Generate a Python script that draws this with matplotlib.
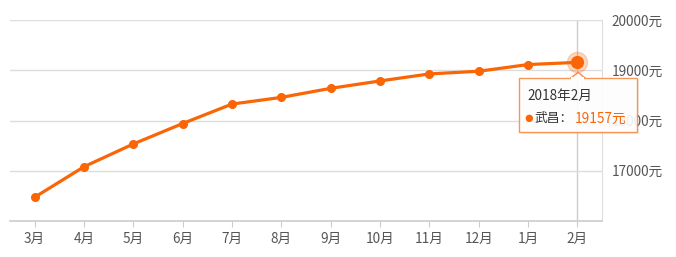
import matplotlib
matplotlib.use('Agg')
import matplotlib.pyplot as plt
from matplotlib.patches import Rectangle, Polygon, Circle
from matplotlib.transforms import IdentityTransform

plt.rcParams['font.family'] = ['Noto Sans CJK SC', 'DejaVu Sans']

months = ['3月', '4月', '5月', '6月', '7月', '8月', '9月', '10月', '11月', '12月', '1月', '2月']
prices = [16473, 17080, 17533, 17940, 18327, 18460, 18640, 18787, 18927, 18980, 19113, 19157]
y_ticks = [17000, 18000, 19000, 20000]
y_labels = ['17000元', '18000元', '19000元', '20000元']
tip_title = '2018年2月'
tip_series = '武昌：'
tip_value = '19157元'

orange = '#fa6505'
grid_c = '#dddddd'
text_c = '#555555'

fig = plt.figure(figsize=(6.76, 2.57), dpi=100)
W, H = 676, 257
ax = fig.add_axes([10 / W, 36 / H, 592 / W, 201 / H])

x = list(range(len(months)))
ax.plot(x, prices, color=orange, lw=2.3, marker='o', ms=5.5, zorder=3, clip_on=False)

ax.set_xlim(-0.5, len(months) - 0.5)
ax.set_ylim(16000, 20000)
ax.set_xticks(x)
ax.set_xticklabels(months)
ax.set_yticks(y_ticks)
ax.set_yticklabels(y_labels)
ax.yaxis.tick_right()
ax.tick_params(axis='y', length=0, pad=7, labelsize=9.8, labelcolor=text_c)
ax.tick_params(axis='x', length=4, width=0.8, color='#cccccc', pad=4,
               labelsize=9.8, labelcolor=text_c)
ax.grid(axis='y', color=grid_c, lw=1)
for s in ['left', 'top']:
    ax.spines[s].set_visible(False)
ax.spines['right'].set_color(grid_c)
ax.spines['bottom'].set_color('#cccccc')
ax.spines['bottom'].set_linewidth(1.2)

# hovered point: crosshair + halo
last = len(months) - 1
ax.axvline(last, color='#cccccc', lw=1, zorder=1)
ax.plot(last, prices[last], 'o', ms=14.5, color=orange, alpha=0.25, zorder=4, clip_on=False)
ax.plot(last, prices[last], 'o', ms=8.5, color=orange, zorder=5, clip_on=False)

# tooltip, placed in pixels relative to the hovered point
fig.canvas.draw()
px, py = ax.transData.transform((last, prices[last]))
ident = IdentityTransform()
bx0, bx1 = px - 58, px + 60
by1, by0 = py - 16, py - 70
shadow = Rectangle((bx0 + 1.5, by0 - 1.5), bx1 - bx0, by1 - by0, transform=ident,
                   facecolor='#000000', alpha=0.06, edgecolor='none', zorder=9)
fig.add_artist(shadow)
box = Rectangle((bx0, by0), bx1 - bx0, by1 - by0, transform=ident,
                facecolor='white', alpha=0.9, edgecolor='#f98a45', lw=1, zorder=10)
fig.add_artist(box)
notch = Polygon([(px - 7, by1), (px + 1, py - 10), (px + 8, by1)], closed=False,
                transform=ident, facecolor='white', edgecolor='#f98a45', lw=1, zorder=11)
fig.add_artist(notch)
fig.add_artist(Rectangle((px - 6, by1 - 1.5), 13, 3, transform=ident,
                         facecolor='white', edgecolor='none', zorder=12))
fig.text(bx0 + 8, py - 34, tip_title, transform=ident, fontsize=9.8, color='#333333',
         ha='left', va='center', zorder=13)
fig.add_artist(Circle((bx0 + 10, py - 56), 3, transform=ident, color=orange, zorder=13))
fig.text(bx0 + 15, py - 56, tip_series, transform=ident, fontsize=9.2, color='#333333',
         ha='left', va='center', zorder=13)
fig.text(bx0 + 55, py - 56, tip_value, transform=ident, fontsize=9.8, color=orange,
         ha='left', va='center', zorder=13)

fig.savefig('out.png', dpi=100)
